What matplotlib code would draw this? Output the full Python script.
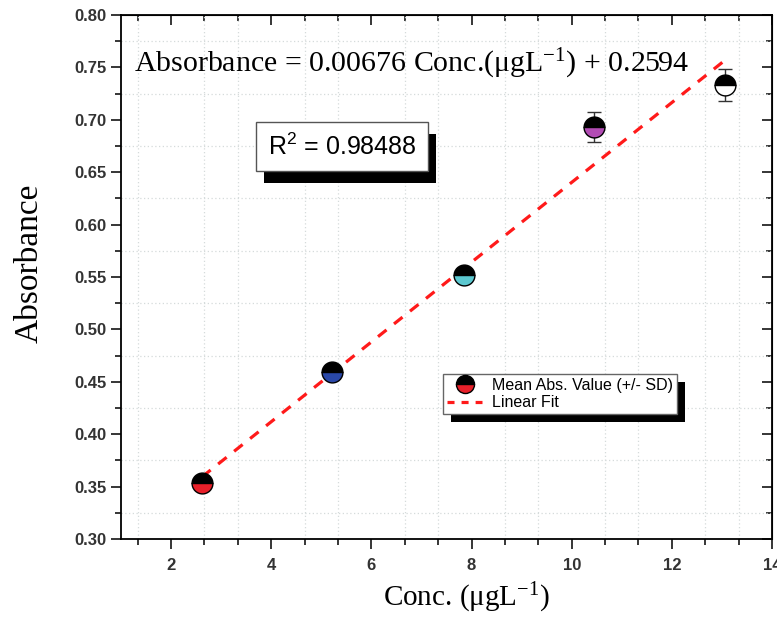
import numpy as np
import matplotlib
matplotlib.use("Agg")
import matplotlib.pyplot as plt
from matplotlib.ticker import MultipleLocator, FormatStrFormatter
from matplotlib.lines import Line2D
from matplotlib.patches import Rectangle

# ---- data ----
conc = [2.62, 5.22, 7.84, 10.45, 13.06]
absorb = [0.353, 0.459, 0.552, 0.693, 0.733]
sd = [0.004, 0.004, 0.006, 0.014, 0.015]
point_colors = ["#e8202a", "#2a48a8", "#5cc8d0", "#b24cb4", "#ffffff"]
equation_text = r"Absorbance = 0.00676 Conc.($\mathregular{\mu gL^{-1}}$) + 0.2594"
r2_text = r"R$\mathregular{^2}$ = 0.98488"
xlabel = r"Conc. ($\mathregular{\mu gL^{-1}}$)"
ylabel = "Absorbance"
legend_labels = ["Mean Abs. Value (+/- SD)", "Linear Fit"]

SERIF = ["Liberation Serif", "DejaVu Serif"]
SANS = ["Liberation Sans", "DejaVu Sans"]

fig = plt.figure(figsize=(7.77, 6.23), dpi=100)
ax = fig.add_axes([121/777, 1-539/623, 651/777, 524/623])

ax.set_xlim(1.0, 14.0)
ax.set_ylim(0.30, 0.80)

# grid (minor only, like the reference)
ax.xaxis.set_major_locator(MultipleLocator(2))
ax.xaxis.set_minor_locator(MultipleLocator(2/3))
ax.yaxis.set_major_locator(MultipleLocator(0.05))
ax.yaxis.set_minor_locator(MultipleLocator(0.025))
ax.yaxis.set_major_formatter(FormatStrFormatter("%.2f"))
ax.grid(which="minor", linestyle=(0, (1, 2)), color="#d5dbdb", linewidth=0.9)
ax.set_axisbelow(True)

ax.tick_params(which="both", direction="out", width=1.1)
ax.tick_params(which="major", length=7)
ax.tick_params(which="minor", length=4)
for lab in ax.get_xticklabels() + ax.get_yticklabels():
    lab.set_family(SANS)
    lab.set_fontsize(12)
    lab.set_fontweight("bold")
    lab.set_color("#333333")
ax.tick_params(axis="x", pad=7)
for sp in ax.spines.values():
    sp.set_linewidth(1.3)

# mirrored axes with inward ticks
secx = ax.secondary_xaxis("top")
secx.xaxis.set_major_locator(MultipleLocator(2))
secx.xaxis.set_minor_locator(MultipleLocator(2/3))
secx.tick_params(which="both", direction="in", labeltop=False, width=1.1)
secx.tick_params(which="major", length=7)
secx.tick_params(which="minor", length=4)
secy = ax.secondary_yaxis("right")
secy.yaxis.set_major_locator(MultipleLocator(0.05))
secy.yaxis.set_minor_locator(MultipleLocator(0.025))
secy.tick_params(which="both", direction="in", labelright=False, width=1.1)
secy.tick_params(which="major", length=7)
secy.tick_params(which="minor", length=4)

# linear fit
slope, intercept = np.polyfit(conc, absorb, 1)
xf = np.array([conc[0], conc[-1]])
ax.plot(xf, slope * xf + intercept, color="#ff1a1a", linewidth=2.3,
        linestyle=(0, (3.4, 3.0)), zorder=4)

# error bars and half-filled markers
ax.errorbar(conc, absorb, yerr=sd, fmt="none", ecolor="#333333",
            elinewidth=1.0, capsize=5, capthick=1.0, zorder=3)
for x, y, c in zip(conc, absorb, point_colors):
    ax.plot([x], [y], marker="o", markersize=15, fillstyle="top",
            markerfacecolor="black", markerfacecoloralt=c,
            markeredgecolor="black", markeredgewidth=1.0,
            linestyle="none", zorder=5)

# labels
ax.set_xlabel(xlabel, family=SERIF, fontsize=21)
ax.xaxis.set_label_coords(0.531, -0.08)
ax.set_ylabel(ylabel, family=SERIF, fontsize=24)
ax.yaxis.set_label_coords(-0.118, 0.527)

ax.text(0.4455, 0.9067, equation_text, transform=ax.transAxes,
        ha="center", va="center", family=SERIF, fontsize=21.5, zorder=6)

r2 = ax.text(0.3395, 0.7486, r2_text, transform=ax.transAxes,
             ha="center", va="center", family=SANS, fontsize=18, zorder=7,
             bbox=dict(boxstyle="square,pad=0.45", facecolor="white",
                       edgecolor="#555555", linewidth=1.0))

handles = [
    Line2D([], [], marker="o", markersize=13, fillstyle="top",
           markerfacecolor="black", markerfacecoloralt="#e8202a",
           markeredgecolor="black", markeredgewidth=1.0, linestyle="none"),
    Line2D([], [], color="#ff1a1a", linewidth=2.3, linestyle=(0, (2.2, 2.2))),
]
leg = ax.legend(handles, legend_labels, loc="upper left",
                bbox_to_anchor=(443/777, 1-374/623), bbox_transform=fig.transFigure,
                borderaxespad=0, fancybox=False, framealpha=1,
                edgecolor="#666666", prop={"family": SANS, "size": 11.5},
                handlelength=2.2, handletextpad=0.6, borderpad=0.25,
                labelspacing=0.15)
leg.get_frame().set_linewidth(1.0)
leg.set_zorder(8)

# black drop shadows
fig.canvas.draw()
inv = ax.transAxes.inverted()

def add_shadow(bb, dx, dy, z):
    (x0, y0) = inv.transform((bb.x0 + dx, bb.y0 - dy))
    (x1, y1) = inv.transform((bb.x1 + dx, bb.y1 - dy))
    ax.add_patch(Rectangle((x0, y0), x1 - x0, y1 - y0, transform=ax.transAxes,
                           facecolor="black", edgecolor="none", zorder=z,
                           clip_on=False))

add_shadow(r2.get_bbox_patch().get_window_extent(), 8, 12, 6.5)
add_shadow(leg.get_frame().get_window_extent(), 8, 8, 7.5)

fig.savefig("out.png", dpi=100)
